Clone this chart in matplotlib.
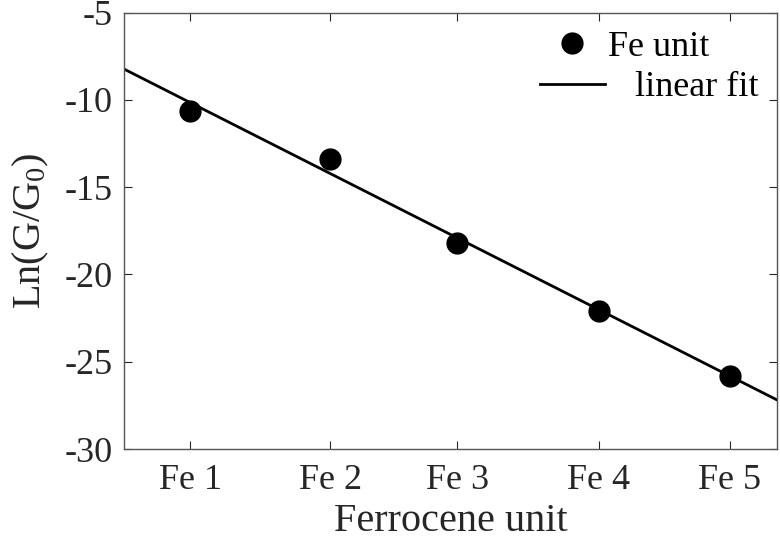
import numpy as np
import matplotlib
matplotlib.use("Agg")
import matplotlib.pyplot as plt

# data
unit_labels = ["Fe 1", "Fe 2", "Fe 3", "Fe 4", "Fe 5"]
unit_pos = [1.0, 2.04, 2.98, 4.03, 5.0]
ln_g = [-10.63, -13.37, -18.17, -22.11, -25.83]

plt.rcParams['font.family'] = ['Liberation Serif', 'DejaVu Serif']
plt.rcParams['mathtext.fontset'] = 'custom'
plt.rcParams['mathtext.rm'] = 'Liberation Serif'
plt.rcParams['mathtext.it'] = 'Liberation Serif:italic'
plt.rcParams['axes.unicode_minus'] = False

fig = plt.figure(figsize=(7.8, 5.45), dpi=100)
ax = fig.add_axes([0.159, 0.176, 0.837, 0.801])

xlim = (0.51, 5.35)

# linear fit over the whole axis width
k, b = np.polyfit(unit_pos, ln_g, 1)
xx = np.array(xlim)
ax.plot(xx, k * xx + b, color='black', lw=2, label='   linear fit', zorder=2)
ax.plot(unit_pos, ln_g, 'o', color='black', ms=15, label='Fe unit', zorder=3)

ax.set_xlim(*xlim)
ax.set_ylim(-30, -5)
ax.set_xticks(unit_pos)
ax.set_xticklabels(unit_labels)
ax.set_yticks(np.arange(-30, -4, 5))

ax.tick_params(direction='in', length=6, width=0.8, top=True, right=True,
               labelsize=26, colors='#262626')
ax.tick_params(axis='x', pad=11)
ax.tick_params(axis='y', pad=8)
for s in ax.spines.values():
    s.set_color('#555555')
    s.set_linewidth(1)

ax.set_xlabel('Ferrocene unit', fontsize=29, color='#262626', labelpad=4)
ax.set_ylabel(r'Ln(G/G$_{\mathrm{0}}$)', fontsize=29, color='#262626', labelpad=10)

h, l = ax.get_legend_handles_labels()
ax.legend(h[::-1], l[::-1], loc='upper right', frameon=False, fontsize=26,
          handlelength=1.8, handletextpad=0.1, borderaxespad=0.1,
          labelspacing=0.2)

fig.savefig('out.png', dpi=100)
